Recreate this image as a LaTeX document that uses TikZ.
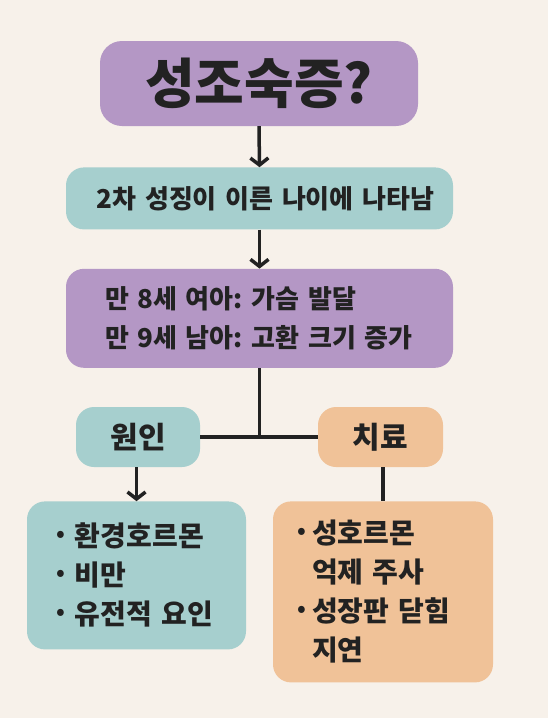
\documentclass[tikz,border=0pt]{standalone}
\usepackage{fontspec}
\setmainfont{Noto Sans CJK KR}
\newfontfamily\krblack{Noto Sans CJK KR}[UprightFont={* Black}]
\definecolor{bgCream}{HTML}{F7F1EA}
\definecolor{boxPurple}{HTML}{B497C5}
\definecolor{boxTeal}{HTML}{A6CFCE}
\definecolor{boxOrange}{HTML}{F0C298}
\definecolor{lineDark}{HTML}{222222}
\usetikzlibrary{positioning, arrows.meta}
% bullet item: #1 indent, #2 bullet box width
\newcommand{\itm}[2]{\hspace*{#1}\makebox[#2][l]{\raisebox{5pt}{\fontsize{22}{22}\selectfont\textbullet}}}
\newcommand{\itmgap}[2]{\hspace*{#1}\hspace*{#2}}

\begin{document}
\frenchspacing
\begin{tikzpicture}[
    x=1pt, y=-1pt,
    base/.style={rectangle, rounded corners=18pt, inner sep=0pt,
                 text=lineDark, align=center},
    titlebox/.style={base, fill=boxPurple, rounded corners=22pt,
                 minimum width=318pt, minimum height=85pt,
                 font=\krblack\fontsize{54}{60}\selectfont},
    infobox/.style={base, minimum width=387pt, font=\bfseries\fontsize{26}{39}\selectfont},
    headbox/.style={base, minimum width=124pt, minimum height=60pt,
                 font=\bfseries\fontsize{30}{34}\selectfont},
    listbox/.style={base, minimum width=219pt, align=left,
                 text width=219pt, inner xsep=0pt,
                 font=\bfseries\fontsize{28}{39}\selectfont},
    arrow/.style={-{Straight Barb[length=7pt, width=18pt, line width=3.5pt]},
                 line width=3.5pt, draw=lineDark},
    link/.style={line width=3.5pt, draw=lineDark},
  ]
    % Canvas
    \fill[bgCream] (0,0) rectangle (548,718);
    \useasboundingbox (0,0) rectangle (548,718);

    % Main column
    \node[titlebox] (Q) at (259,83.5) {성조숙증?};
    \node[infobox, fill=boxTeal, minimum height=62pt, text width=353pt, inner xsep=17pt,
          below=41pt of Q.south, anchor=north, xshift=0.5pt] (S1)
      {\hspace*{12pt}2차 성징이 이른 나이에 나타남};
    \node[infobox, fill=boxPurple, minimum height=99pt, text width=309pt, inner xsep=39pt,
          align=left, below=39pt of S1] (S2)
      {만 8세 여아: 가슴 발달\\만 9세 남아: 고환 크기 증가};
    \draw[arrow] (Q.south -| S1.north) ++(-0.5,0) -- (S1.north);
    \draw[arrow] (S1) -- (S2);

    % Branches
    \node[headbox, fill=boxTeal] (C) at (138,437) {원인};
    \node[headbox, fill=boxOrange, minimum width=125pt] (T) at (380.5,437) {치료};
    \coordinate (J) at (S2.south |- C.east);
    \draw[link] (S2.south) -- (J);
    \draw[link] (C.east) -- (T.west);

    % Lists
    \node[listbox, fill=boxTeal, minimum height=148pt, below=34pt of C, xshift=-1.5pt] (CL)
      {\itm{30pt}{18pt}환경호르몬\\\itm{30pt}{18pt}비만\\\itm{30pt}{18pt}유전적 요인};
    \node[listbox, fill=boxOrange, text width=220pt, minimum height=181pt,
          below=34pt of T, xshift=2.5pt] (TL)
      {\itm{24pt}{15pt}성호르몬\\\itmgap{24pt}{15pt}억제 주사\\
       \itm{24pt}{15pt}성장판 닫힘\\\itmgap{24pt}{15pt}지연};
    \draw[arrow] (C.south -| CL.north) -- (CL.north);
    \draw[link] (T.south -| TL.north) -- (TL.north);
  \end{tikzpicture}
\end{document}
